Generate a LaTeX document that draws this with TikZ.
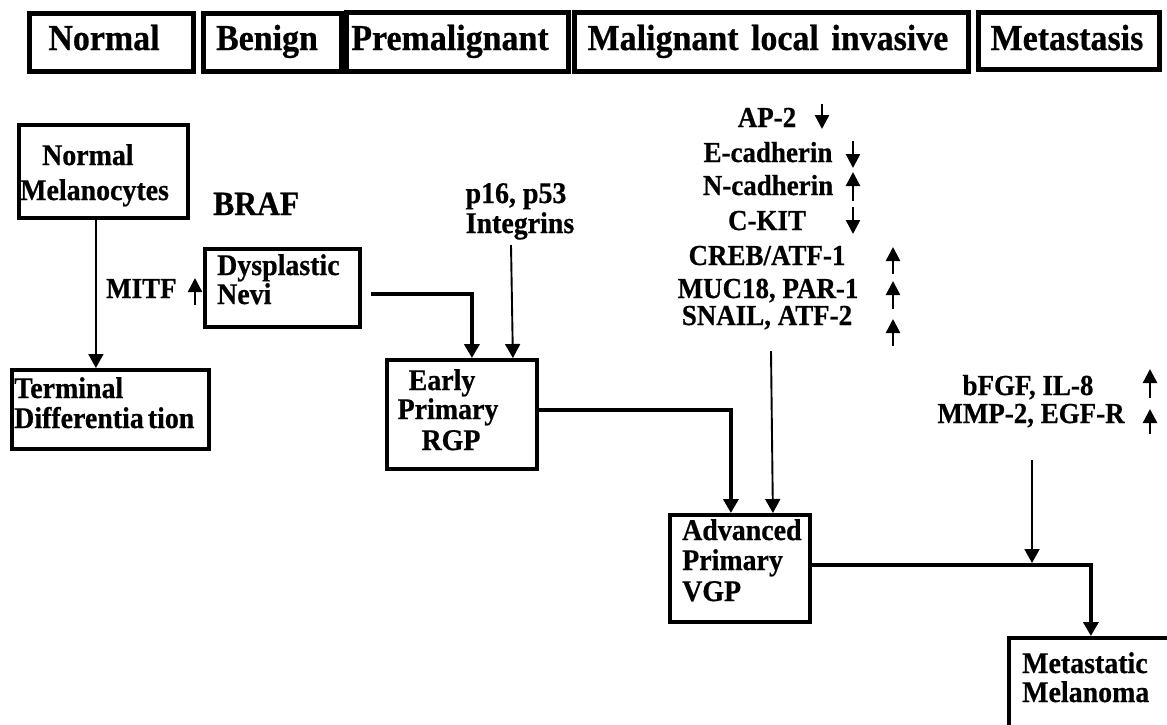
\documentclass[tikz,border=0pt]{standalone}
\usepackage{fontspec}
\setmainfont{Liberation Serif}
\newfontfamily\tnr{Liberation Serif}[FakeStretch=0.93, FakeBold=0.6]
\usetikzlibrary{arrows.meta}
\begin{document}
\begin{tikzpicture}[x=1pt,y=-1pt,
  hbox/.style={draw, line width=4.5pt, anchor=north west, inner sep=0pt},
  box/.style={draw, line width=3.8pt, anchor=north west, inner sep=0pt},
  hlab/.style={font=\fontsize{36.5}{38}\tnr\bfseries, anchor=base, inner sep=0pt},
  blab/.style={font=\fontsize{30}{32}\tnr\bfseries, anchor=base west, inner sep=0pt},
  clab/.style={font=\fontsize{30}{32}\tnr\bfseries, anchor=base, inner sep=0pt},
  glab/.style={font=\fontsize{29}{31}\tnr\bfseries, anchor=base, inner sep=0pt},
  thickarr/.style={line width=3.5pt, -{Triangle[width=15pt,length=14pt]}},
  thinarr/.style={line width=1.9pt, -{Triangle[width=15pt,length=14pt]}},
  updown/.style={line width=2.5pt, -{Triangle[width=14pt,length=14pt]}},
]
\useasboundingbox (0,0) rectangle (1167,724);
\clip (0,0) rectangle (1167,724);
\fill[white] (0,0) rectangle (1167,724);

% header
\node[hbox, minimum width=164, minimum height=58] (hn) at (27,11) {};
\node[hbox, minimum width=138, minimum height=58] (hb) at (201,11) {};
\node[hbox, minimum width=222, minimum height=59] (hp) at (344,10) {};
\node[hbox, minimum width=394, minimum height=59] (hm) at (572,10) {};
\node[hbox, minimum width=181, minimum height=57] (hx) at (976,10) {};
\node[hlab] (hnt) at (104,50) {Normal};
\node[hlab] (hbt) at (267,50) {Benign};
\node[hlab] (hpt) at (450,50) {Premalignant};
\node[hlab] (hmt) at (768,50) {Malignant\hspace{4pt} local\hspace{4pt} invasive};
\node[hlab] (hxt) at (1067,50) {Metastasis};

% boxes
\node[box, minimum width=169, minimum height=93] (nm) at (17,123) {};
\node[box, minimum width=197, minimum height=79] (td) at (10,368) {};
\node[box, minimum width=155, minimum height=78] (dn) at (203,247) {};
\node[box, minimum width=150, minimum height=109] (early) at (385,358) {};
\node[box, minimum width=140, minimum height=107] (adv) at (668,513) {};
\node[box, minimum width=200, minimum height=130] (meta) at (1007,636) {};

% box texts
\node[blab] (t1) at (42,165) {Normal};
\node[blab] (t2) at (20,200) {Melanocytes};
\node[blab] (t3) at (14,398) {Terminal};
\node[blab] (t4) at (14,428) {Differentia\kern4pt tion};
\node[blab] (t5) at (217,275) {Dysplastic};
\node[blab] (t6) at (217,304) {Nevi};
\node[clab] (t7) at (442,390) {Early};
\node[clab] (t8) at (448,419) {Primary};
\node[clab] (t9) at (451,450) {RGP};
\node[blab] (t10) at (682,540) {Advanced};
\node[blab] (t11) at (682,570) {Primary};
\node[blab] (t12) at (682,601) {VGP};
\node[blab] (t13) at (1022,673) {Metastatic};
\node[blab] (t14) at (1022,702) {Melanoma};

% labels
\node[font=\fontsize{34}{36}\tnr\bfseries, anchor=base west, inner sep=0pt] (braf) at (213,215) {BRAF};
\node[font=\fontsize{29}{31}\tnr\bfseries, anchor=base west, inner sep=0pt] (mitf) at (106,298) {MITF};
\node[clab] (p16) at (516,203) {p16, p53};
\node[clab] (integ) at (520,233) {Integrins};

\node[glab] (g1) at (767,127) {AP-2};
\node[glab] (g2) at (768,162) {E-cadherin};
\node[glab] (g3) at (768,195) {N-cadherin};
\node[glab] (g4) at (767,230) {C-KIT};
\node[glab] (g5) at (767,265) {CREB/ATF-1};
\node[glab] (g6) at (768,298) {MUC18, PAR-1};
\node[glab] (g7) at (767,325) {SNAIL, ATF-2};
\node[glab] (g8) at (1028,395) {bFGF, IL-8};
\node[glab] (g9) at (1031,423) {MMP-2, EGF-R};

% small up/down arrows
\draw[updown] (195,305) -- (195,278);
\draw[updown] (822,104) -- (822,129);
\draw[updown] (853,141) -- (853,168);
\draw[updown] (853,201) -- (853,172);
\draw[updown] (853,207) -- (853,234);
\draw[updown] (893,274) -- (893,247);
\draw[updown] (893,309) -- (893,281);
\draw[updown] (893,346) -- (893,319);
\draw[updown] (1150,398) -- (1150,369);
\draw[updown] (1150,434) -- (1150,409);

% connectors
\coordinate (intop) at (511,245);
\coordinate (genetop) at (771,351);
\coordinate (gftop) at (1032,460);
\coordinate (j3) at (1032,563);

\draw[thinarr] ([xshift=-7.5pt]nm.south) -- ([xshift=-14.5pt]td.north);
\draw[thickarr] ([shift={(9,6)}]dn.east) -| ([xshift=10pt]early.north);
\draw[thinarr] (intop) -- ([xshift=51pt]early.north);
\draw[thickarr] ([shift={(0,-4.5)}]early.east) -| ([xshift=-9pt]adv.north);
\draw[thinarr] (genetop) -- ([xshift=33pt]adv.north);
\draw[thickarr] ([shift={(0,-3.5)}]adv.east) -| ([xshift=-18pt]meta.north);
\draw[thinarr] (gftop) -- (j3);
\end{tikzpicture}
\end{document}
